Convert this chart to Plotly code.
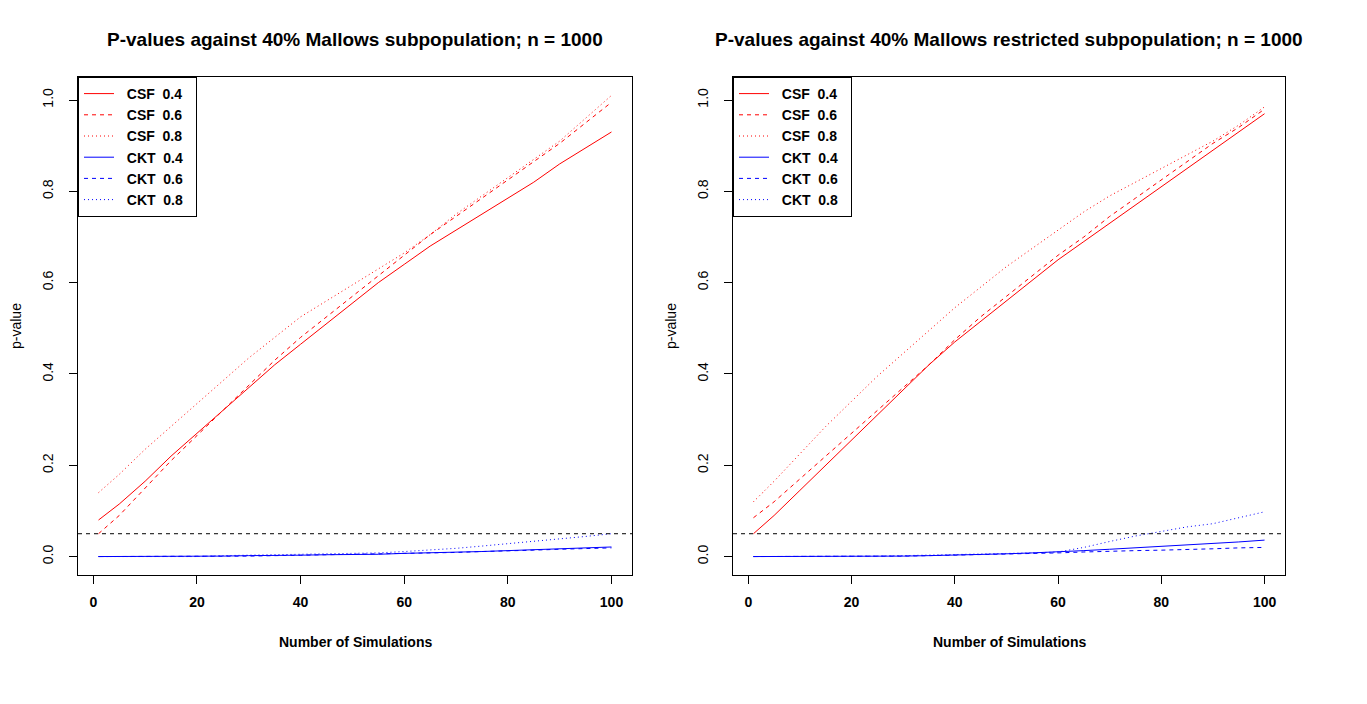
import plotly.graph_objects as go

W, H = 1367, 704

# ---------------- data ----------------
sims = [1, 5, 10, 15, 20, 25, 30, 35, 40, 45, 50, 55, 60, 65, 70, 75, 80, 85, 90, 95, 100]
alpha_level = 0.05

# Left panel: Mallows subpopulation
left_csf_04 = [0.08, 0.115, 0.165, 0.22, 0.27, 0.32, 0.37, 0.42, 0.465, 0.51, 0.555, 0.60, 0.64, 0.68, 0.715, 0.75, 0.785, 0.82, 0.86, 0.895, 0.93]
left_csf_06 = [0.05, 0.09, 0.15, 0.21, 0.265, 0.32, 0.375, 0.43, 0.48, 0.525, 0.57, 0.615, 0.66, 0.705, 0.745, 0.785, 0.825, 0.865, 0.905, 0.95, 0.995]
left_csf_08 = [0.14, 0.18, 0.235, 0.285, 0.335, 0.385, 0.435, 0.48, 0.525, 0.56, 0.595, 0.63, 0.665, 0.705, 0.75, 0.79, 0.83, 0.87, 0.91, 0.96, 1.01]
left_ckt_04 = [0.0, 0.0, 0.0, 0.0, 0.0, 0.001, 0.002, 0.002, 0.003, 0.004, 0.004, 0.005, 0.007, 0.008, 0.010, 0.011, 0.013, 0.015, 0.016, 0.018, 0.021]
left_ckt_06 = [0.0, 0.0, 0.0, 0.0, 0.0, 0.001, 0.001, 0.002, 0.003, 0.003, 0.004, 0.005, 0.006, 0.008, 0.009, 0.011, 0.012, 0.014, 0.016, 0.018, 0.019]
left_ckt_08 = [0.0, 0.0, 0.0, 0.0, 0.0, 0.002, 0.003, 0.004, 0.005, 0.005, 0.006, 0.008, 0.011, 0.014, 0.018, 0.023, 0.028, 0.033, 0.038, 0.044, 0.05]

# Right panel: Mallows restricted subpopulation
right_csf_04 = [0.05, 0.09, 0.145, 0.20, 0.255, 0.31, 0.365, 0.42, 0.47, 0.515, 0.56, 0.605, 0.65, 0.69, 0.73, 0.77, 0.81, 0.85, 0.89, 0.93, 0.97]
right_csf_06 = [0.085, 0.12, 0.17, 0.22, 0.27, 0.32, 0.37, 0.42, 0.475, 0.525, 0.57, 0.615, 0.66, 0.70, 0.745, 0.785, 0.825, 0.865, 0.905, 0.94, 0.98]
right_csf_08 = [0.12, 0.165, 0.225, 0.285, 0.34, 0.395, 0.445, 0.495, 0.545, 0.59, 0.635, 0.675, 0.715, 0.755, 0.79, 0.82, 0.85, 0.88, 0.91, 0.945, 0.985]
right_ckt_04 = [0.0, 0.0, 0.0, 0.0, 0.0, 0.001, 0.001, 0.002, 0.003, 0.004, 0.006, 0.008, 0.010, 0.013, 0.016, 0.019, 0.022, 0.025, 0.028, 0.032, 0.036]
right_ckt_06 = [0.0, 0.0, 0.0, 0.0, 0.0, 0.001, 0.001, 0.002, 0.003, 0.004, 0.005, 0.007, 0.008, 0.010, 0.012, 0.013, 0.014, 0.015, 0.017, 0.019, 0.020]
right_ckt_08 = [0.0, 0.0, 0.0, 0.0, 0.0, 0.001, 0.002, 0.003, 0.004, 0.005, 0.006, 0.008, 0.010, 0.020, 0.033, 0.045, 0.055, 0.065, 0.072, 0.085, 0.098]

series_names = ["CSF 0.4", "CSF 0.6", "CSF 0.8", "CKT 0.4", "CKT 0.6", "CKT 0.8"]
titles = ["P-values against 40% Mallows subpopulation; n = 1000",
          "P-values against 40% Mallows restricted subpopulation; n = 1000"]
x_ticks = [0, 20, 40, 60, 80, 100]
x_tick_text = ["<b>0</b>", "<b>20</b>", "<b>40</b>", "<b>60</b>", "<b>80</b>", "<b>100</b>"]
y_ticks = [0.0, 0.2, 0.4, 0.6, 0.8, 1.0]
y_tick_text = ["0.0", "0.2", "0.4", "0.6", "0.8", "1.0"]

left_data = [left_csf_04, left_csf_06, left_csf_08, left_ckt_04, left_ckt_06, left_ckt_08]
right_data = [right_csf_04, right_csf_06, right_csf_08, right_ckt_04, right_ckt_06, right_ckt_08]

# ---------------- styles ----------------
RED, BLUE = "#FF0000", "#0000FF"
colors = [RED, RED, RED, BLUE, BLUE, BLUE]
dashes = ["solid", "4px,4px", "1px,3px", "solid", "4px,4px", "1px,3px"]
FONT = "Liberation Sans, Arial, sans-serif"
OFF = 8  # page body margin
NB = "\u00a0"

def fx(px):
    return (px - OFF) / W

def fy(py):
    return 1 - (py - OFF) / H

# plot boxes in pixels (screen)
boxes = [(78, 632, 77, 575), (733, 1285, 77, 575)]

fig = go.Figure()

for p, (data, box) in enumerate(zip([left_data, right_data], boxes)):
    xa = "x" if p == 0 else "x2"
    ya = "y" if p == 0 else "y2"
    lg = "legend" if p == 0 else "legend2"
    for name, vals, c, d in zip(series_names, data, colors, dashes):
        label = NB * 2 + "<b>" + name.replace(" ", NB * 2) + "</b>" + NB * 2
        fig.add_trace(go.Scatter(
            x=sims, y=vals, mode="lines", name=label,
            line=dict(color=c, width=1, dash=d),
            xaxis=xa, yaxis=ya, legend=lg, showlegend=True,
        ))
    fig.add_shape(type="line", xref=f"{xa} domain", yref=ya,
                  x0=0, x1=1, y0=alpha_level, y1=alpha_level,
                  line=dict(color="black", width=1, dash="4px,4px"))
    l, r, t, b = box
    cx = (l + r) / 2
    fig.add_annotation(text=f"<b>{titles[p]}</b>", x=fx(cx), y=fy(40),
                       xref="paper", yref="paper", showarrow=False,
                       font=dict(family=FONT, size=19, color="black"),
                       xanchor="center", yanchor="middle")
    fig.add_annotation(text="<b>Number of Simulations</b>", x=fx(cx), y=fy(642),
                       xref="paper", yref="paper", showarrow=False,
                       font=dict(family=FONT, size=14, color="black"),
                       xanchor="center", yanchor="middle")
    fig.add_annotation(text="p-value", x=fx(l - 62), y=fy(326),
                       xref="paper", yref="paper", showarrow=False, textangle=-90,
                       font=dict(family=FONT, size=14, color="black"),
                       xanchor="center", yanchor="middle")

axis_common = dict(showline=True, linecolor="black", linewidth=1, mirror=True,
                   ticks="outside", ticklen=8, tickcolor="black", tickwidth=1,
                   showgrid=False, zeroline=False, automargin=False,
                   tickfont=dict(family=FONT, size=14, color="black"))

xr = [-2.96, 103.96]
yr = [-0.0404, 1.0504]

legend_common = dict(xanchor="left", yanchor="top",
                     bgcolor="white", bordercolor="black", borderwidth=1,
                     itemwidth=30, font=dict(family=FONT, size=14, color="black"),
                     tracegroupgap=0)

fig.update_layout(
    width=W, height=H,
    margin=dict(l=0, r=0, t=0, b=0),
    paper_bgcolor="white", plot_bgcolor="white",
    font=dict(family=FONT, color="black"),
    xaxis=dict(domain=[fx(78), fx(632)], range=xr, tickvals=x_ticks, ticktext=x_tick_text,
               anchor="y", ticklabelstandoff=6, **axis_common),
    yaxis=dict(domain=[fy(575), fy(77)], range=yr, tickvals=y_ticks, ticktext=y_tick_text,
               tickangle=-90, anchor="x", ticklabelstandoff=10, **axis_common),
    xaxis2=dict(domain=[fx(733), fx(1285)], range=xr, tickvals=x_ticks, ticktext=x_tick_text,
                anchor="y2", ticklabelstandoff=6, **axis_common),
    yaxis2=dict(domain=[fy(575), fy(77)], range=yr, tickvals=y_ticks, ticktext=y_tick_text,
                tickangle=-90, anchor="x2", ticklabelstandoff=10, **axis_common),
    legend=dict(x=fx(78), y=fy(77), **legend_common),
    legend2=dict(x=fx(733), y=fy(77), **legend_common),
    showlegend=True,
)

fig.write_html("out.html")
